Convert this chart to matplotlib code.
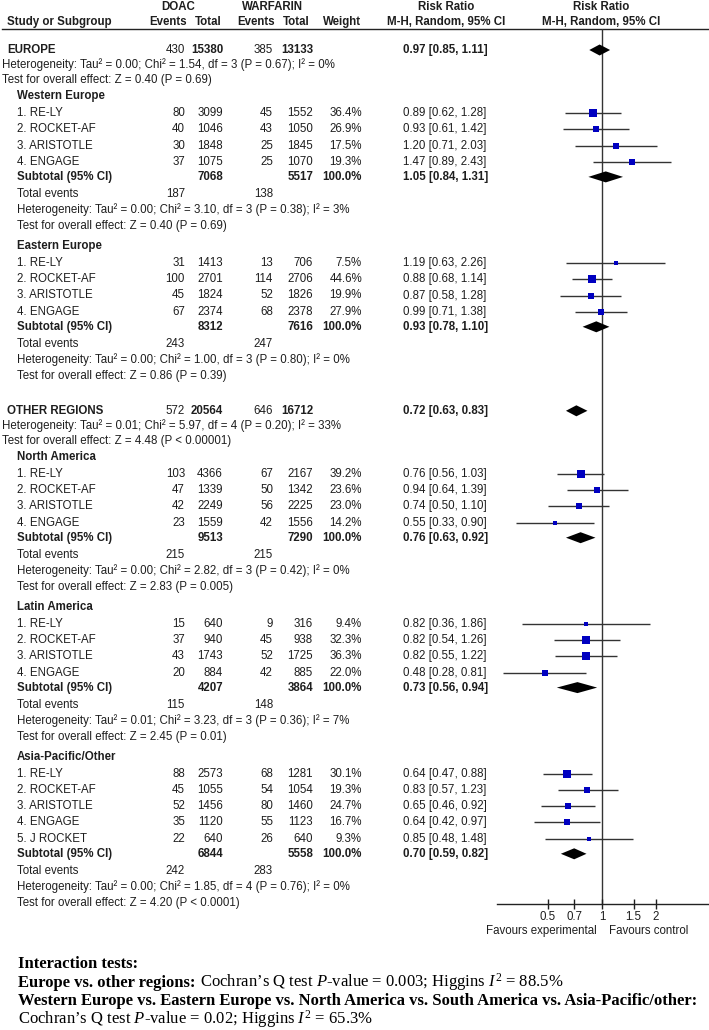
import numpy as np
import matplotlib.pyplot as plt
from matplotlib.ticker import FixedLocator, NullLocator

plt.rcParams['font.family'] = 'Liberation Sans'
plt.rcParams['mathtext.fontset'] = 'custom'
plt.rcParams['mathtext.rm'] = 'Liberation Serif'
plt.rcParams['mathtext.it'] = 'Liberation Serif:italic'

# ---------------------------------------------------------------- data

regions = ["EUROPE", "OTHER REGIONS"]
region_doac_events = [430, 572]
region_doac_total = [15380, 20564]
region_warf_events = [385, 646]
region_warf_total = [13133, 16712]
region_rr = [0.97, 0.72]
region_lo = [0.85, 0.63]
region_hi = [1.11, 0.83]
region_het = ["Tau\u00b2 = 0.00; Chi\u00b2 = 1.54, df = 3 (P = 0.67); I\u00b2 = 0%",
              "Tau\u00b2 = 0.01; Chi\u00b2 = 5.97, df = 4 (P = 0.20); I\u00b2 = 33%"]
region_z = ["Z = 0.40 (P = 0.69)", "Z = 4.48 (P < 0.00001)"]

subgroups = ["Western Europe", "Eastern Europe", "North America", "Latin America", "Asia-Pacific/Other"]
subgroup_region = [0, 0, 1, 1, 1]
studies = [["1. RE-LY", "2. ROCKET-AF", "3. ARISTOTLE", "4. ENGAGE"]] * 4 + \
          [["1. RE-LY", "2. ROCKET-AF", "3. ARISTOTLE", "4. ENGAGE", "5. J ROCKET"]]
doac_events = [[80, 40, 30, 37], [31, 100, 45, 67], [103, 47, 42, 23], [15, 37, 43, 20], [88, 45, 52, 35, 22]]
doac_total = [[3099, 1046, 1848, 1075], [1413, 2701, 1824, 2374], [4366, 1339, 2249, 1559],
              [640, 940, 1743, 884], [2573, 1055, 1456, 1120, 640]]
warf_events = [[45, 43, 25, 25], [13, 114, 52, 68], [67, 50, 56, 42], [9, 45, 52, 42], [68, 54, 80, 55, 26]]
warf_total = [[1552, 1050, 1845, 1070], [706, 2706, 1826, 2378], [2167, 1342, 2225, 1556],
              [316, 938, 1725, 885], [1281, 1054, 1460, 1123, 640]]
weights = [[36.4, 26.9, 17.5, 19.3], [7.5, 44.6, 19.9, 27.9], [39.2, 23.6, 23.0, 14.2],
           [9.4, 32.3, 36.3, 22.0], [30.1, 19.3, 24.7, 16.7, 9.3]]
rr = [[0.89, 0.93, 1.20, 1.47], [1.19, 0.88, 0.87, 0.99], [0.76, 0.94, 0.74, 0.55],
      [0.82, 0.82, 0.82, 0.48], [0.64, 0.83, 0.65, 0.64, 0.85]]
rr_lo = [[0.62, 0.61, 0.71, 0.89], [0.63, 0.68, 0.58, 0.71], [0.56, 0.64, 0.50, 0.33],
         [0.36, 0.54, 0.55, 0.28], [0.47, 0.57, 0.46, 0.42, 0.48]]
rr_hi = [[1.28, 1.42, 2.03, 2.43], [2.26, 1.14, 1.28, 1.38], [1.03, 1.39, 1.10, 0.90],
         [1.86, 1.26, 1.22, 0.81], [0.88, 1.23, 0.92, 0.97, 1.48]]

sub_doac_total = [7068, 8312, 9513, 4207, 6844]
sub_warf_total = [5517, 7616, 7290, 3864, 5558]
sub_rr = [1.05, 0.93, 0.76, 0.73, 0.70]
sub_lo = [0.84, 0.78, 0.63, 0.56, 0.59]
sub_hi = [1.31, 1.10, 0.92, 0.94, 0.82]
sub_doac_events = [187, 243, 215, 115, 242]
sub_warf_events = [138, 247, 215, 148, 283]
sub_het = ["Tau\u00b2 = 0.00; Chi\u00b2 = 3.10, df = 3 (P = 0.38); I\u00b2 = 3%",
           "Tau\u00b2 = 0.00; Chi\u00b2 = 1.00, df = 3 (P = 0.80); I\u00b2 = 0%",
           "Tau\u00b2 = 0.00; Chi\u00b2 = 2.82, df = 3 (P = 0.42); I\u00b2 = 0%",
           "Tau\u00b2 = 0.01; Chi\u00b2 = 3.23, df = 3 (P = 0.36); I\u00b2 = 7%",
           "Tau\u00b2 = 0.00; Chi\u00b2 = 1.85, df = 4 (P = 0.76); I\u00b2 = 0%"]
sub_z = ["Z = 0.40 (P = 0.69)", "Z = 0.86 (P = 0.39)", "Z = 2.83 (P = 0.005)",
         "Z = 2.45 (P = 0.01)", "Z = 4.20 (P < 0.0001)"]

ticks = [0.5, 0.7, 1, 1.5, 2]
tick_labels = ["0.5", "0.7", "1", "1.5", "2"]

# ---------------------------------------------------------------- layout

W, H = 709, 1030
FS = 8.3
INK = '#1e1e1e'
BLUE = '#0000c0'
X_DE, X_DT, X_WE, X_WT, X_WGT, X_RR = 185, 223, 273, 313, 362, 403
AX_TOP, AX_BOT = 29, 904

fig = plt.figure(figsize=(W / 100, H / 100), dpi=100)
tab = fig.add_axes([0, 0, 1, 1])
tab.set_xlim(0, W)
tab.set_ylim(H, 0)
tab.axis('off')

fp = fig.add_axes([497 / W, 1 - AX_BOT / H, (W - 497) / W, (AX_BOT - AX_TOP) / H])
fp.set_xscale('log')
fp.set_xlim(0.26, 3.95)
fp.set_ylim(AX_BOT, AX_TOP)
fp.patch.set_alpha(0)


def txt(x, y, s, ha='left', bold=False):
    tab.text(x, y, s, ha=ha, va='center', fontsize=FS, color=INK,
             fontweight='bold' if bold else 'normal')


def ci_text(r, lo, hi):
    return f"{r:.2f} [{lo:.2f}, {hi:.2f}]"


def diamond(y, r, lo, hi, h=5.5):
    fp.fill([lo, r, hi, r], [y, y - h, y, y + h], color='black', lw=0, zorder=3)


# header
txt(178, 7, "DOAC", 'center', True)
txt(272, 7, "WARFARIN", 'center', True)
txt(446, 7, "Risk Ratio", 'center', True)
txt(601, 7, "Risk Ratio", 'center', True)
txt(7, 22, "Study or Subgroup", bold=True)
txt(168, 22, "Events", 'center', True)
txt(208, 22, "Total", 'center', True)
txt(256, 22, "Events", 'center', True)
txt(296, 22, "Total", 'center', True)
txt(342, 22, "Weight", 'center', True)
txt(446, 22, "M-H, Random, 95% CI", 'center', True)
txt(601, 22, "M-H, Random, 95% CI", 'center', True)
tab.plot([2, W], [29, 29], color='#222222', lw=1.0)

y = 50
for ri, region in enumerate(regions):
    txt(7, y, region, bold=True)
    txt(X_DE, y, str(region_doac_events[ri]), 'right')
    txt(X_DT, y, str(region_doac_total[ri]), 'right', True)
    txt(X_WE, y, str(region_warf_events[ri]), 'right')
    txt(X_WT, y, str(region_warf_total[ri]), 'right', True)
    txt(X_RR, y, ci_text(region_rr[ri], region_lo[ri], region_hi[ri]), bold=True)
    diamond(y, region_rr[ri], region_lo[ri], region_hi[ri])
    y += 15
    txt(2, y, "Heterogeneity: " + region_het[ri])
    y += 15
    txt(2, y, "Test for overall effect: " + region_z[ri])
    y += 16
    for g in [i for i, r in enumerate(subgroup_region) if r == ri]:
        txt(17, y, subgroups[g], bold=True)
        y += 17
        for k, name in enumerate(studies[g]):
            txt(17, y, name)
            txt(X_DE, y, str(doac_events[g][k]), 'right')
            txt(X_DT, y, str(doac_total[g][k]), 'right')
            txt(X_WE, y, str(warf_events[g][k]), 'right')
            txt(X_WT, y, str(warf_total[g][k]), 'right')
            txt(X_WGT, y, f"{weights[g][k]:.1f}%", 'right')
            txt(X_RR, y, ci_text(rr[g][k], rr_lo[g][k], rr_hi[g][k]))
            fp.plot([rr_lo[g][k], rr_hi[g][k]], [y, y], color='#333333', lw=1.0,
                    solid_capstyle='butt', zorder=2)
            fp.plot(rr[g][k], y, 's', ms=0.95 * np.sqrt(weights[g][k]), color=BLUE,
                    mew=0, zorder=3)
            y += 16.3
        y += 15 - 16.3
        txt(17, y, "Subtotal (95% CI)", bold=True)
        txt(X_DT, y, str(sub_doac_total[g]), 'right', True)
        txt(X_WT, y, str(sub_warf_total[g]), 'right', True)
        txt(X_WGT, y, "100.0%", 'right', True)
        txt(X_RR, y, ci_text(sub_rr[g], sub_lo[g], sub_hi[g]), bold=True)
        diamond(y, sub_rr[g], sub_lo[g], sub_hi[g])
        y += 17
        txt(17, y, "Total events")
        txt(X_DE, y, str(sub_doac_events[g]), 'right')
        txt(X_WE, y, str(sub_warf_events[g]), 'right')
        y += 16
        txt(17, y, "Heterogeneity: " + sub_het[g])
        y += 16
        txt(17, y, "Test for overall effect: " + sub_z[g])
        y += 20
    y += 15

# forest axis
fp.axvline(1, color='#333333', lw=1.0, zorder=1)
for s in ['top', 'left', 'right']:
    fp.spines[s].set_visible(False)
fp.spines['bottom'].set_linewidth(1.0)
fp.spines['bottom'].set_color('#222222')
fp.set_yticks([])
fp.xaxis.set_major_locator(FixedLocator(ticks))
fp.xaxis.set_minor_locator(NullLocator())
fp.set_xticklabels(tick_labels)
fp.tick_params(axis='x', direction='inout', length=7, width=1.0, labelsize=FS,
               pad=1.5, colors=INK)

txt(597, 931, "Favours experimental", 'right')
txt(609, 931, "Favours control", 'left')

# interaction tests
SERIF = 'Liberation Serif'
BFS = 12
tab.text(18, 968, "Interaction tests:", family=SERIF, fontsize=BFS, fontweight='bold',
         va='baseline', color='black')
t1 = tab.text(18, 987, "Europe vs. other regions:", family=SERIF, fontsize=BFS,
              fontweight='bold', va='baseline', color='black')
tab.annotate(" Cochran\u2019s Q test $P$-value = 0.003; Higgins $I^2$ = 88.5%",
             xy=(1, 987), xycoords=(t1, 'data'), family=SERIF, fontsize=BFS,
             va='baseline', ha='left', color='black')
tab.text(18, 1005, "Western Europe vs. Eastern Europe vs. North America vs. South America vs. Asia-Pacific/other:",
         family=SERIF, fontsize=BFS, fontweight='bold', va='baseline', color='black')
tab.text(18, 1024, "Cochran\u2019s Q test $P$-value = 0.02; Higgins $I^2$ = 65.3%",
         family=SERIF, fontsize=BFS, va='baseline', color='black')

fig.savefig('out.png', dpi=100)
